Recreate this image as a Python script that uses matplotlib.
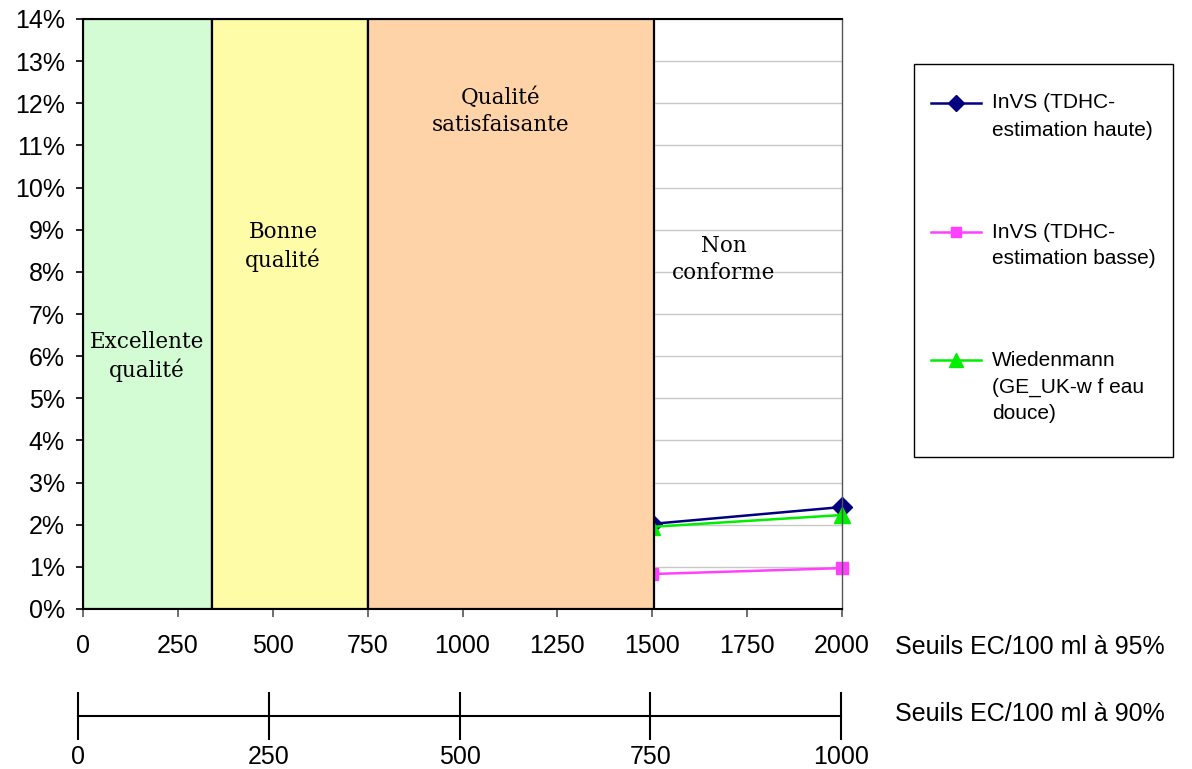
import numpy as np
import matplotlib.pyplot as plt
from matplotlib.patches import Rectangle
from matplotlib.lines import Line2D

# donnees
x_seuils = [1500, 2000]
invs_haute = [2.02, 2.42]
invs_basse = [0.83, 0.97]
wiedenmann = [1.95, 2.23]

series = [
    (invs_haute, 'D', '#000080', 10, 8, ['InVS (TDHC-', 'estimation haute)']),
    (invs_basse, 's', '#ff40ff', 9, 7.5, ['InVS (TDHC-', 'estimation basse)']),
    (wiedenmann, '^', '#00ee00', 11, 10, ['Wiedenmann', '(GE_UK-w f eau', 'douce)']),
]

# zones de qualite (seuils a 95%) : debut, fin, couleur, texte, position du texte
zones = [(0, 340, '#d4fcd4', 'Excellente\nqualité', 169, 6.0),
         (340, 752, '#fffca8', 'Bonne\nqualité', 527, 8.6),
         (752, 1505, '#ffd3a8', 'Qualité\nsatisfaisante', 1099, 11.8)]
label_non_conforme = ('Non\nconforme', 1689, 8.3)

x_ticks = [0, 250, 500, 750, 1000, 1250, 1500, 1750, 2000]
x2_ticks = [0, 250, 500, 750, 1000]

plt.rcParams['font.family'] = ['Liberation Sans', 'DejaVu Sans']

W, H = 1192, 769
fig = plt.figure(figsize=(W / 100, H / 100), dpi=100)
ax = fig.add_axes([83/W, 160/H, 759/W, 590/H])

# courbes (sous les zones)
for vals, mk, col, ms, lms, lab in series:
    ax.plot(x_seuils, vals, '-', marker=mk, color=col, ms=ms, lw=1.8, zorder=1,
            clip_on=False)

for x0, x1, c, txt, tx, ty in zones:
    ax.add_patch(Rectangle((x0, 0), x1 - x0, 14, facecolor=c, edgecolor='black',
                           lw=1.6, zorder=3))
    ax.text(tx, ty, txt, ha='center', va='center', fontsize=15.5,
            family='DejaVu Serif', linespacing=1.3, zorder=4)
ax.text(label_non_conforme[1], label_non_conforme[2], label_non_conforme[0],
        ha='center', va='center', fontsize=15.5, family='DejaVu Serif',
        linespacing=1.3, zorder=4)

ax.set_xlim(0, 2000)
ax.set_ylim(0, 14)
ax.set_yticks(np.arange(0, 15, 1))
ax.set_yticklabels([f'{i}%' for i in range(15)])
ax.set_xticks(x_ticks)
ax.set_xticklabels([str(v) for v in x_ticks])
ax.tick_params(axis='y', labelsize=18, length=5, width=1.2, pad=8)
ax.tick_params(axis='x', labelsize=18, length=6, width=1.2, pad=12,
               color='#555555')
ax.grid(axis='y', color='#c8c8c8', lw=1, zorder=0)
ax.set_axisbelow(True)
ax.spines['left'].set_linewidth(1.5)
ax.spines['bottom'].set_linewidth(1.5)
ax.spines['top'].set_linewidth(1.5)
ax.spines['right'].set_color('#555555')
ax.spines['right'].set_linewidth(1)
fig.text(895/W, 1 - 647/H, 'Seuils EC/100 ml à 95%', fontsize=18,
         va='center', ha='left')

# legende (dessinee a la main pour aligner le symbole sur la 1re ligne)
fig.add_artist(Rectangle((914/W, 1 - 457/H), 259/W, 393/H, transform=fig.transFigure,
                         facecolor='white', edgecolor='black', lw=1))
entry_y = [103, 232, 360]
for (vals, mk, col, ms, lms, lab), y0 in zip(series, entry_y):
    yf = 1 - y0 / H
    fig.add_artist(Line2D([931/W, 981/W], [yf, yf], transform=fig.transFigure,
                          color=col, lw=1.8))
    fig.add_artist(Line2D([956/W], [yf], transform=fig.transFigure, marker=mk,
                          color=col, ms=lms, lw=0))
    for k, line in enumerate(lab):
        fig.text(992/W, 1 - (y0 + 27 * k) / H, line, fontsize=15,
                 va='center', ha='left')

# second axe (seuils a 90%)
ax2 = fig.add_axes([78/W, 53/H, 763/W, 0.001])
ax2.set_xlim(0, 1000)
ax2.set_ylim(0, 1)
for s in ['top', 'left', 'right']:
    ax2.spines[s].set_visible(False)
ax2.spines['bottom'].set_linewidth(1.5)
ax2.set_yticks([])
ax2.set_xticks(x2_ticks)
ax2.set_xticklabels([str(v) for v in x2_ticks])
ax2.tick_params(axis='x', direction='inout', length=34, width=1.5, labelsize=18, pad=4)
ax2.patch.set_visible(False)
fig.text(895/W, 1 - 714/H, 'Seuils EC/100 ml à 90%', fontsize=18,
         va='center', ha='left')

plt.savefig('out.png', dpi=100)
